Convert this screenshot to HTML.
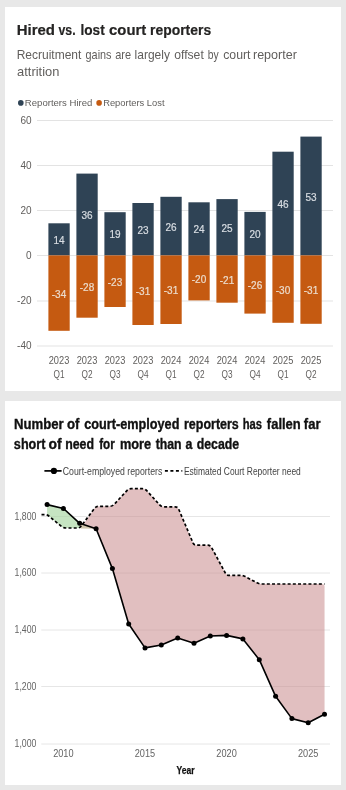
<!DOCTYPE html>
<html><head><meta charset="utf-8"><style>
html,body{margin:0;padding:0;background:#e8e8e8;width:346px;height:790px;overflow:hidden}
svg{display:block;will-change:transform}
text{font-family:"Liberation Sans",sans-serif}
</style></head><body>
<svg width="346" height="790" viewBox="0 0 346 790">
<rect x="0" y="0" width="346" height="790" fill="#e8e8e8"/>
<rect x="5" y="7" width="336" height="384" fill="#ffffff"/>
<rect x="5" y="401" width="336" height="384" fill="#ffffff"/>
<text x="16.71" y="35.2" font-size="15.2" font-weight="700" fill="#252423" textLength="38.25" lengthAdjust="spacingAndGlyphs" stroke="#252423" stroke-width="0.2">Hired</text>
<text x="58.50" y="35.2" font-size="15.2" font-weight="700" fill="#252423" textLength="17.11" lengthAdjust="spacingAndGlyphs" stroke="#252423" stroke-width="0.2">vs.</text>
<text x="80.50" y="35.2" font-size="15.2" font-weight="700" fill="#252423" textLength="24.24" lengthAdjust="spacingAndGlyphs" stroke="#252423" stroke-width="0.2">lost</text>
<text x="109.11" y="35.2" font-size="15.2" font-weight="700" fill="#252423" textLength="37.10" lengthAdjust="spacingAndGlyphs" stroke="#252423" stroke-width="0.2">court</text>
<text x="150.08" y="35.2" font-size="15.2" font-weight="700" fill="#252423" textLength="61.04" lengthAdjust="spacingAndGlyphs" stroke="#252423" stroke-width="0.2">reporters</text>
<text x="16.66" y="58.9" font-size="12.8" fill="#605e5c" textLength="64.72" lengthAdjust="spacingAndGlyphs">Recruitment</text>
<text x="85.58" y="58.9" font-size="12.8" fill="#605e5c" textLength="25.93" lengthAdjust="spacingAndGlyphs">gains</text>
<text x="115.17" y="58.9" font-size="12.8" fill="#605e5c" textLength="15.86" lengthAdjust="spacingAndGlyphs">are</text>
<text x="134.60" y="58.9" font-size="12.8" fill="#605e5c" textLength="35.36" lengthAdjust="spacingAndGlyphs">largely</text>
<text x="174.22" y="58.9" font-size="12.8" fill="#605e5c" textLength="29.55" lengthAdjust="spacingAndGlyphs">offset</text>
<text x="207.69" y="58.9" font-size="12.8" fill="#605e5c" textLength="10.92" lengthAdjust="spacingAndGlyphs">by</text>
<text x="223.22" y="58.9" font-size="12.8" fill="#605e5c" textLength="27.27" lengthAdjust="spacingAndGlyphs">court</text>
<text x="252.96" y="58.9" font-size="12.8" fill="#605e5c" textLength="43.94" lengthAdjust="spacingAndGlyphs">reporter</text>
<text x="17.10" y="75.6" font-size="12.8" fill="#605e5c" textLength="42.23" lengthAdjust="spacingAndGlyphs">attrition</text>
<circle cx="20.8" cy="102.9" r="2.8" fill="#2f4355"/>
<text x="24.87" y="106.2" font-size="9.8" fill="#605e5c" textLength="67.47" lengthAdjust="spacingAndGlyphs">Reporters Hired</text>
<circle cx="99.1" cy="102.9" r="2.8" fill="#c55a11"/>
<text x="103.18" y="106.2" font-size="9.8" fill="#605e5c" textLength="61.33" lengthAdjust="spacingAndGlyphs">Reporters Lost</text>
<line x1="37" y1="120.5" x2="333" y2="120.5" stroke="#e3e3e3" stroke-width="1"/>
<text x="31.5" y="123.9" font-size="10" fill="#605e5c" text-anchor="end">60</text>
<line x1="37" y1="165.5" x2="333" y2="165.5" stroke="#e3e3e3" stroke-width="1"/>
<text x="31.5" y="168.9" font-size="10" fill="#605e5c" text-anchor="end">40</text>
<line x1="37" y1="210.5" x2="333" y2="210.5" stroke="#e3e3e3" stroke-width="1"/>
<text x="31.5" y="213.9" font-size="10" fill="#605e5c" text-anchor="end">20</text>
<line x1="37" y1="255.5" x2="333" y2="255.5" stroke="#e3e3e3" stroke-width="1"/>
<text x="31.5" y="258.9" font-size="10" fill="#605e5c" text-anchor="end">0</text>
<line x1="37" y1="301" x2="333" y2="301" stroke="#e3e3e3" stroke-width="1"/>
<text x="31.5" y="304.4" font-size="10" fill="#605e5c" text-anchor="end">-20</text>
<line x1="37" y1="346" x2="333" y2="346" stroke="#e3e3e3" stroke-width="1"/>
<text x="31.5" y="349.4" font-size="10" fill="#605e5c" text-anchor="end">-40</text>
<rect x="48.4" y="223.3" width="21.3" height="32.10" fill="#2f4355"/>
<rect x="48.4" y="255.4" width="21.3" height="75.40" fill="#c55a11"/>
<text x="59.0" y="243.95" font-size="10" fill="#d8dde2" stroke="#d8dde2" stroke-width="0.2" text-anchor="middle">14</text>
<text x="59.0" y="297.70" font-size="10" fill="#ecdccc" stroke="#ecdccc" stroke-width="0.2" text-anchor="middle">-34</text>
<text x="48.7" y="364" font-size="10.5" fill="#605e5c" textLength="20.6" lengthAdjust="spacingAndGlyphs">2023</text>
<text x="53.5" y="377.5" font-size="10.5" fill="#605e5c" textLength="11" lengthAdjust="spacingAndGlyphs">Q1</text>
<rect x="76.4" y="173.6" width="21.3" height="81.80" fill="#2f4355"/>
<rect x="76.4" y="255.4" width="21.3" height="62.30" fill="#c55a11"/>
<text x="87.0" y="219.10" font-size="10" fill="#d8dde2" stroke="#d8dde2" stroke-width="0.2" text-anchor="middle">36</text>
<text x="87.0" y="291.15" font-size="10" fill="#ecdccc" stroke="#ecdccc" stroke-width="0.2" text-anchor="middle">-28</text>
<text x="76.7" y="364" font-size="10.5" fill="#605e5c" textLength="20.6" lengthAdjust="spacingAndGlyphs">2023</text>
<text x="81.5" y="377.5" font-size="10.5" fill="#605e5c" textLength="11" lengthAdjust="spacingAndGlyphs">Q2</text>
<rect x="104.4" y="212.2" width="21.3" height="43.20" fill="#2f4355"/>
<rect x="104.4" y="255.4" width="21.3" height="51.60" fill="#c55a11"/>
<text x="115.0" y="238.40" font-size="10" fill="#d8dde2" stroke="#d8dde2" stroke-width="0.2" text-anchor="middle">19</text>
<text x="115.0" y="285.80" font-size="10" fill="#ecdccc" stroke="#ecdccc" stroke-width="0.2" text-anchor="middle">-23</text>
<text x="104.7" y="364" font-size="10.5" fill="#605e5c" textLength="20.6" lengthAdjust="spacingAndGlyphs">2023</text>
<text x="109.5" y="377.5" font-size="10.5" fill="#605e5c" textLength="11" lengthAdjust="spacingAndGlyphs">Q3</text>
<rect x="132.4" y="203" width="21.3" height="52.40" fill="#2f4355"/>
<rect x="132.4" y="255.4" width="21.3" height="69.60" fill="#c55a11"/>
<text x="143.0" y="233.80" font-size="10" fill="#d8dde2" stroke="#d8dde2" stroke-width="0.2" text-anchor="middle">23</text>
<text x="143.0" y="294.80" font-size="10" fill="#ecdccc" stroke="#ecdccc" stroke-width="0.2" text-anchor="middle">-31</text>
<text x="132.7" y="364" font-size="10.5" fill="#605e5c" textLength="20.6" lengthAdjust="spacingAndGlyphs">2023</text>
<text x="137.5" y="377.5" font-size="10.5" fill="#605e5c" textLength="11" lengthAdjust="spacingAndGlyphs">Q4</text>
<rect x="160.4" y="196.8" width="21.3" height="58.60" fill="#2f4355"/>
<rect x="160.4" y="255.4" width="21.3" height="68.60" fill="#c55a11"/>
<text x="171.0" y="230.70" font-size="10" fill="#d8dde2" stroke="#d8dde2" stroke-width="0.2" text-anchor="middle">26</text>
<text x="171.0" y="294.30" font-size="10" fill="#ecdccc" stroke="#ecdccc" stroke-width="0.2" text-anchor="middle">-31</text>
<text x="160.7" y="364" font-size="10.5" fill="#605e5c" textLength="20.6" lengthAdjust="spacingAndGlyphs">2024</text>
<text x="165.5" y="377.5" font-size="10.5" fill="#605e5c" textLength="11" lengthAdjust="spacingAndGlyphs">Q1</text>
<rect x="188.4" y="202.3" width="21.3" height="53.10" fill="#2f4355"/>
<rect x="188.4" y="255.4" width="21.3" height="45.00" fill="#c55a11"/>
<text x="199.0" y="233.45" font-size="10" fill="#d8dde2" stroke="#d8dde2" stroke-width="0.2" text-anchor="middle">24</text>
<text x="199.0" y="282.50" font-size="10" fill="#ecdccc" stroke="#ecdccc" stroke-width="0.2" text-anchor="middle">-20</text>
<text x="188.7" y="364" font-size="10.5" fill="#605e5c" textLength="20.6" lengthAdjust="spacingAndGlyphs">2024</text>
<text x="193.5" y="377.5" font-size="10.5" fill="#605e5c" textLength="11" lengthAdjust="spacingAndGlyphs">Q2</text>
<rect x="216.4" y="199.1" width="21.3" height="56.30" fill="#2f4355"/>
<rect x="216.4" y="255.4" width="21.3" height="47.30" fill="#c55a11"/>
<text x="227.0" y="231.85" font-size="10" fill="#d8dde2" stroke="#d8dde2" stroke-width="0.2" text-anchor="middle">25</text>
<text x="227.0" y="283.65" font-size="10" fill="#ecdccc" stroke="#ecdccc" stroke-width="0.2" text-anchor="middle">-21</text>
<text x="216.7" y="364" font-size="10.5" fill="#605e5c" textLength="20.6" lengthAdjust="spacingAndGlyphs">2024</text>
<text x="221.5" y="377.5" font-size="10.5" fill="#605e5c" textLength="11" lengthAdjust="spacingAndGlyphs">Q3</text>
<rect x="244.4" y="211.9" width="21.3" height="43.50" fill="#2f4355"/>
<rect x="244.4" y="255.4" width="21.3" height="58.20" fill="#c55a11"/>
<text x="255.0" y="238.25" font-size="10" fill="#d8dde2" stroke="#d8dde2" stroke-width="0.2" text-anchor="middle">20</text>
<text x="255.0" y="289.10" font-size="10" fill="#ecdccc" stroke="#ecdccc" stroke-width="0.2" text-anchor="middle">-26</text>
<text x="244.7" y="364" font-size="10.5" fill="#605e5c" textLength="20.6" lengthAdjust="spacingAndGlyphs">2024</text>
<text x="249.5" y="377.5" font-size="10.5" fill="#605e5c" textLength="11" lengthAdjust="spacingAndGlyphs">Q4</text>
<rect x="272.4" y="151.7" width="21.3" height="103.70" fill="#2f4355"/>
<rect x="272.4" y="255.4" width="21.3" height="67.40" fill="#c55a11"/>
<text x="283.0" y="208.15" font-size="10" fill="#d8dde2" stroke="#d8dde2" stroke-width="0.2" text-anchor="middle">46</text>
<text x="283.0" y="293.70" font-size="10" fill="#ecdccc" stroke="#ecdccc" stroke-width="0.2" text-anchor="middle">-30</text>
<text x="272.7" y="364" font-size="10.5" fill="#605e5c" textLength="20.6" lengthAdjust="spacingAndGlyphs">2025</text>
<text x="277.5" y="377.5" font-size="10.5" fill="#605e5c" textLength="11" lengthAdjust="spacingAndGlyphs">Q1</text>
<rect x="300.4" y="136.6" width="21.3" height="118.80" fill="#2f4355"/>
<rect x="300.4" y="255.4" width="21.3" height="68.40" fill="#c55a11"/>
<text x="311.0" y="200.60" font-size="10" fill="#d8dde2" stroke="#d8dde2" stroke-width="0.2" text-anchor="middle">53</text>
<text x="311.0" y="294.20" font-size="10" fill="#ecdccc" stroke="#ecdccc" stroke-width="0.2" text-anchor="middle">-31</text>
<text x="300.7" y="364" font-size="10.5" fill="#605e5c" textLength="20.6" lengthAdjust="spacingAndGlyphs">2025</text>
<text x="305.5" y="377.5" font-size="10.5" fill="#605e5c" textLength="11" lengthAdjust="spacingAndGlyphs">Q2</text>
<text x="13.98" y="428.9" font-size="14.3" font-weight="700" fill="#111111" textLength="49.78" lengthAdjust="spacingAndGlyphs" stroke="#111111" stroke-width="0.35">Number</text>
<text x="67.04" y="428.9" font-size="14.3" font-weight="700" fill="#111111" textLength="12.46" lengthAdjust="spacingAndGlyphs" stroke="#111111" stroke-width="0.35">of</text>
<text x="84.26" y="428.9" font-size="14.3" font-weight="700" fill="#111111" textLength="95.13" lengthAdjust="spacingAndGlyphs" stroke="#111111" stroke-width="0.35">court-employed</text>
<text x="184.03" y="428.9" font-size="14.3" font-weight="700" fill="#111111" textLength="54.74" lengthAdjust="spacingAndGlyphs" stroke="#111111" stroke-width="0.35">reporters</text>
<text x="242.72" y="428.9" font-size="14.3" font-weight="700" fill="#111111" textLength="19.28" lengthAdjust="spacingAndGlyphs" stroke="#111111" stroke-width="0.35">has</text>
<text x="266.87" y="428.9" font-size="14.3" font-weight="700" fill="#111111" textLength="33.89" lengthAdjust="spacingAndGlyphs" stroke="#111111" stroke-width="0.35">fallen</text>
<text x="303.87" y="428.9" font-size="14.3" font-weight="700" fill="#111111" textLength="16.68" lengthAdjust="spacingAndGlyphs" stroke="#111111" stroke-width="0.35">far</text>
<text x="13.86" y="448.9" font-size="14.3" font-weight="700" fill="#111111" textLength="31.56" lengthAdjust="spacingAndGlyphs" stroke="#111111" stroke-width="0.35">short</text>
<text x="48.62" y="448.9" font-size="14.3" font-weight="700" fill="#111111" textLength="13.08" lengthAdjust="spacingAndGlyphs" stroke="#111111" stroke-width="0.35">of</text>
<text x="65.14" y="448.9" font-size="14.3" font-weight="700" fill="#111111" textLength="28.82" lengthAdjust="spacingAndGlyphs" stroke="#111111" stroke-width="0.35">need</text>
<text x="99.20" y="448.9" font-size="14.3" font-weight="700" fill="#111111" textLength="15.56" lengthAdjust="spacingAndGlyphs" stroke="#111111" stroke-width="0.35">for</text>
<text x="119.91" y="448.9" font-size="14.3" font-weight="700" fill="#111111" textLength="31.21" lengthAdjust="spacingAndGlyphs" stroke="#111111" stroke-width="0.35">more</text>
<text x="155.69" y="448.9" font-size="14.3" font-weight="700" fill="#111111" textLength="25.92" lengthAdjust="spacingAndGlyphs" stroke="#111111" stroke-width="0.35">than</text>
<text x="185.57" y="448.9" font-size="14.3" font-weight="700" fill="#111111" textLength="6.89" lengthAdjust="spacingAndGlyphs" stroke="#111111" stroke-width="0.35">a</text>
<text x="196.77" y="448.9" font-size="14.3" font-weight="700" fill="#111111" textLength="42.39" lengthAdjust="spacingAndGlyphs" stroke="#111111" stroke-width="0.35">decade</text>
<line x1="44.4" y1="470.9" x2="61.6" y2="470.9" stroke="#000" stroke-width="1.7"/>
<circle cx="53.9" cy="470.9" r="3.1" fill="#000"/>
<text x="62.78" y="474.6" font-size="10.3" fill="#444444" textLength="99.50" lengthAdjust="spacingAndGlyphs">Court-employed reporters</text>
<line x1="164.9" y1="470.9" x2="182.3" y2="470.9" stroke="#000" stroke-width="1.7" stroke-dasharray="3 2.5"/>
<text x="183.88" y="474.6" font-size="10.3" fill="#444444" textLength="116.94" lengthAdjust="spacingAndGlyphs">Estimated Court Reporter need</text>
<line x1="41.3" y1="744" x2="330" y2="744" stroke="#e6e6e6" stroke-width="1"/>
<text x="14.55" y="747.1" font-size="10" fill="#646464" textLength="21.80" lengthAdjust="spacingAndGlyphs">1,000</text>
<line x1="41.3" y1="686.5" x2="330" y2="686.5" stroke="#e6e6e6" stroke-width="1"/>
<text x="14.55" y="689.6" font-size="10" fill="#646464" textLength="21.80" lengthAdjust="spacingAndGlyphs">1,200</text>
<line x1="41.3" y1="630" x2="330" y2="630" stroke="#e6e6e6" stroke-width="1"/>
<text x="14.55" y="633.1" font-size="10" fill="#646464" textLength="21.80" lengthAdjust="spacingAndGlyphs">1,400</text>
<line x1="41.3" y1="573" x2="330" y2="573" stroke="#e6e6e6" stroke-width="1"/>
<text x="14.55" y="576.1" font-size="10" fill="#646464" textLength="21.80" lengthAdjust="spacingAndGlyphs">1,600</text>
<line x1="41.3" y1="516.5" x2="330" y2="516.5" stroke="#e6e6e6" stroke-width="1"/>
<text x="14.55" y="519.6" font-size="10" fill="#646464" textLength="21.80" lengthAdjust="spacingAndGlyphs">1,800</text>
<text x="53.17" y="756.6" font-size="10.3" fill="#646464" textLength="20.42" lengthAdjust="spacingAndGlyphs">2010</text>
<text x="134.77" y="756.6" font-size="10.3" fill="#646464" textLength="20.42" lengthAdjust="spacingAndGlyphs">2015</text>
<text x="216.37" y="756.6" font-size="10.3" fill="#646464" textLength="20.42" lengthAdjust="spacingAndGlyphs">2020</text>
<text x="297.97" y="756.6" font-size="10.3" fill="#646464" textLength="20.42" lengthAdjust="spacingAndGlyphs">2025</text>
<text x="176.59" y="774.4" font-size="10.3" font-weight="700" fill="#111111" textLength="18.03" lengthAdjust="spacingAndGlyphs" stroke="#111111" stroke-width="0.25">Year</text>
<polygon points="47.1,504.6 63.4,508.5 79.7,523.3 80.5,528.0 63.3,528.0 47.0,514.6" fill="#a8d5a2" fill-opacity="0.65"/>
<path d="M80.50,528.00 L94.54,508.41 Q96.06,506.30 98.66,506.30 L109.78,506.30 Q112.38,506.30 114.15,504.39 L126.93,490.61 Q128.70,488.70 131.30,488.70 L142.42,488.70 Q145.02,488.70 146.76,490.63 L159.60,504.87 Q161.34,506.80 163.94,506.80 L175.06,506.80 Q177.66,506.80 178.68,509.19 L192.96,542.81 Q193.98,545.20 196.58,545.20 L207.70,545.20 Q210.30,545.20 211.54,547.49 L225.38,573.11 Q226.62,575.40 229.22,575.40 L240.34,575.40 Q242.94,575.40 245.24,576.61 L256.96,582.79 Q259.26,584.00 261.86,584.00 L272.98,584.00 Q275.58,584.00 278.18,584.00 L289.30,584.00 Q291.90,584.00 294.50,584.00 L305.62,584.00 Q308.22,584.00 310.82,584.00 L321.94,584.00 Q324.54,584.00 324.54,586.60 L324.54,711.60 Q324.54,714.20 322.23,715.40 L310.53,721.50 Q308.22,722.70 305.70,722.07 L294.42,719.23 Q291.90,718.60 290.36,716.50 L277.12,698.40 Q275.58,696.30 274.52,693.93 L260.32,662.07 Q259.26,659.70 257.66,657.65 L244.54,640.95 Q242.94,638.90 240.40,638.35 L229.16,635.95 Q226.62,635.40 224.02,635.50 L212.90,635.90 Q210.30,636.00 207.92,637.05 L196.36,642.15 Q193.98,643.20 191.50,642.41 L180.14,638.79 Q177.66,638.00 175.27,639.02 L163.73,643.98 Q161.34,645.00 158.78,645.45 L147.58,647.45 Q145.02,647.90 143.55,645.75 L130.17,626.15 Q128.70,624.00 127.97,621.51 L113.11,571.09 Q112.38,568.60 111.39,566.19 L97.05,531.21 Q96.06,528.80 93.59,527.98 L80.50,523.60 Z" fill="#c88a8d" fill-opacity="0.55"/>
<polygon points="80.5,523.6 95.8,528.8 80.5,528.4" fill="#c4b89a" fill-opacity="0.8"/>
<path d="M41.50,514.60 L44.50,514.60 Q47.10,514.60 49.11,516.25 L61.41,526.35 Q63.42,528.00 66.02,528.00 L77.14,528.00 Q79.74,528.00 81.30,525.92 L94.50,508.38 Q96.06,506.30 98.66,506.30 L109.78,506.30 Q112.38,506.30 114.15,504.39 L126.93,490.61 Q128.70,488.70 131.30,488.70 L142.42,488.70 Q145.02,488.70 146.76,490.63 L159.60,504.87 Q161.34,506.80 163.94,506.80 L175.06,506.80 Q177.66,506.80 178.68,509.19 L192.96,542.81 Q193.98,545.20 196.58,545.20 L207.70,545.20 Q210.30,545.20 211.54,547.49 L225.38,573.11 Q226.62,575.40 229.22,575.40 L240.34,575.40 Q242.94,575.40 245.24,576.61 L256.96,582.79 Q259.26,584.00 261.86,584.00 L272.98,584.00 Q275.58,584.00 278.18,584.00 L289.30,584.00 Q291.90,584.00 294.50,584.00 L305.62,584.00 Q308.22,584.00 310.82,584.00 L324.54,584.00" fill="none" stroke="#000" stroke-width="1.7" stroke-dasharray="3 2.2"/>
<polyline points="47.1,504.6 63.4,508.5 79.7,523.3 96.1,528.8 112.4,568.6 128.7,624.0 145.0,647.9 161.3,645.0 177.7,638.0 194.0,643.2 210.3,636.0 226.6,635.4 242.9,638.9 259.3,659.7 275.6,696.3 291.9,718.6 308.2,722.7 324.5,714.2" fill="none" stroke="#000" stroke-width="1.6" stroke-linejoin="round"/>
<circle cx="47.1" cy="504.6" r="2.5" fill="#000"/>
<circle cx="63.4" cy="508.5" r="2.5" fill="#000"/>
<circle cx="79.7" cy="523.3" r="2.5" fill="#000"/>
<circle cx="96.1" cy="528.8" r="2.5" fill="#000"/>
<circle cx="112.4" cy="568.6" r="2.5" fill="#000"/>
<circle cx="128.7" cy="624.0" r="2.5" fill="#000"/>
<circle cx="145.0" cy="647.9" r="2.5" fill="#000"/>
<circle cx="161.3" cy="645.0" r="2.5" fill="#000"/>
<circle cx="177.7" cy="638.0" r="2.5" fill="#000"/>
<circle cx="194.0" cy="643.2" r="2.5" fill="#000"/>
<circle cx="210.3" cy="636.0" r="2.5" fill="#000"/>
<circle cx="226.6" cy="635.4" r="2.5" fill="#000"/>
<circle cx="242.9" cy="638.9" r="2.5" fill="#000"/>
<circle cx="259.3" cy="659.7" r="2.5" fill="#000"/>
<circle cx="275.6" cy="696.3" r="2.5" fill="#000"/>
<circle cx="291.9" cy="718.6" r="2.5" fill="#000"/>
<circle cx="308.2" cy="722.7" r="2.5" fill="#000"/>
<circle cx="324.5" cy="714.2" r="2.5" fill="#000"/>
</svg></body></html>
